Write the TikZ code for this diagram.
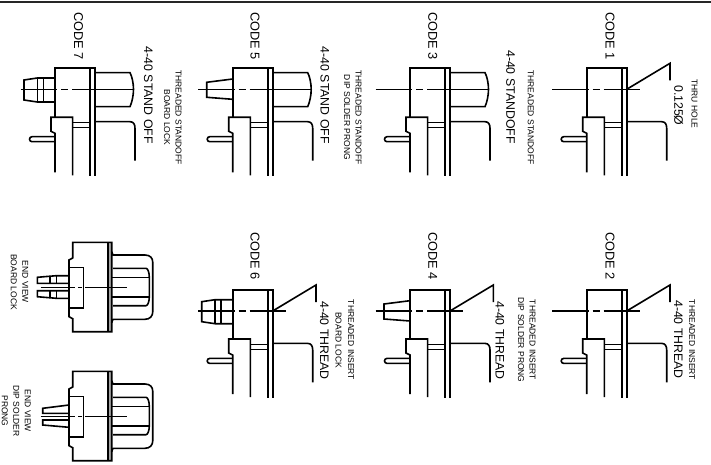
\documentclass[tikz,border=0pt]{standalone}
\usepackage{fontspec}
\setmainfont{Liberation Sans}
\tikzset{
  ln/.style={line width=1.6pt,line join=miter,line cap=butt},
  cl/.style={line width=1.4pt},
  big/.style={rotate=-90,anchor=mid west,inner sep=0pt,font=\fontsize{12.3}{14}\selectfont},
  codelab/.style={big,font=\fontsize{12.8}{14}\selectfont},
  small/.style={rotate=-90,anchor=mid,inner sep=0pt,font=\fontsize{8.5}{10}\selectfont}
}
% common connector section, origin = top left corner of the body of CODE 1
\newcommand{\conbody}{%
  \draw[ln] (0,49) -- (0,0) -- (40,0) -- (40,107.5);
  \draw[ln] (35,0) -- (35,107.5);
  \draw[ln] (0,104) -- (0,65) -- (-4,63) -- (-4,49) -- (17.6,49) -- (17.6,107);
  \draw[ln] (17.6,54.4) -- (35,54.4) (17.6,59.4) -- (35,59.4);
  \draw[ln] (0,68.4) -- (-23,68.4) arc[start angle=270,end angle=90,radius=2.5] -- (0,73.4);
  \draw[ln] (40,53.4) -- (75,53.4) .. controls (78.5,53.4) and (80,56) .. (80,60) -- (80,92.4);
}
\newcommand{\centerl}[1]{% right end
  \draw[cl] (-34.4,21) -- (2,21) (6,21) -- (13,21) (17,21) -- (#1,21);
}
\newcommand{\leaderln}{%
  \draw[ln] (40,21) -- (83.3,-5) -- (83.3,12);
}
\newcommand{\standoff}{%
  \draw[ln] (40,4.4) -- (75,4.4) .. controls (77,8) and (78.5,15) .. (78.5,21) .. controls (78.5,27) and (77,34) .. (75,38.4) -- (40,38.4);
}
\newcommand{\solderp}{%
  \draw[ln] (0,10.7) -- (-26,14) -- (-26,29) -- (0,31);
}
\newcommand{\boardl}{%
  \draw[ln] (0,9.7) -- (-17.7,9.7) -- (-31,11.7) -- (-31,31.7) -- (-17.7,33.7) -- (0,33.7);
  \draw[ln] (-17.7,9) -- (-17.7,34.4) (-11.7,9) -- (-11.7,34.4);
}
% rear view, origin = left end of the body on the centre line
\newcommand{\rearvw}{%
  \fill[black!35] (39,-44.7) rectangle (42.7,44.7);
  \draw[ln] (42.7,-44.7) -- (3.7,-44.7) -- (3.7,-29) -- (0,-27) -- (0,29.7) -- (3.7,31.7) -- (3.7,44.7) -- (42.7,44.7) -- cycle;
  \draw[ln] (39,-44.7) -- (39,44.7);
  \draw[ln] (0,-19.7) -- (14.3,-19.7) -- (14.3,20.7) -- (0,20.7);
  \draw[ln] (42.7,-35.3) -- (44,-32) -- (76,-32) .. controls (81,-32) and (83.7,-29) .. (83.7,-25) -- (83.7,25) .. controls (83.7,29) and (81,32.3) .. (76,32.3) -- (44,32.3) -- (42.7,35.6);
  \draw[ln] (44,-18.7) -- (77,-18.7) .. controls (79,-18.7) and (80.3,-14) .. (80.3,-9.7) -- (80.3,9.7) .. controls (80.3,14) and (79,18.7) .. (77,18.7) -- (44,18.7);
  \draw[ln] (43,-9.7) -- (80.3,-9.7) (43,9.7) -- (80.3,9.7);
  \draw[line width=1pt] (-28.3,0) -- (6,0) (9,0) -- (13,0) (16,0) -- (57.7,0);
}
\begin{document}
\begin{tikzpicture}[x=1pt,y=-1pt]
\useasboundingbox (0,0) rectangle (711,465);
\fill[white] (0,0) rectangle (711,465);
\draw[line width=1.8pt,black!85] (0,2) -- (711,2);

% CODE 1
\begin{scope}[shift={(586.7,68.3)}]
  \conbody \centerl{53.3} \leaderln
\end{scope}
% CODE 2
\begin{scope}[shift={(586.7,290)}]
  \conbody \centerl{53.3} \leaderln
\end{scope}
% CODE 3
\begin{scope}[shift={(410,68.3)}]
  \conbody \centerl{78.5} \standoff
\end{scope}
% CODE 4
\begin{scope}[shift={(410,290)}]
  \conbody \centerl{53.3} \leaderln \solderp
\end{scope}
% CODE 5
\begin{scope}[shift={(232.7,68.3)}]
  \conbody \centerl{78.5} \standoff \solderp
\end{scope}
% CODE 6
\begin{scope}[shift={(232.7,290)}]
  \conbody \centerl{53.3} \leaderln \boardl
\end{scope}
% CODE 7
\begin{scope}[shift={(55,68.3)}]
  \conbody \centerl{78.5} \standoff \boardl
\end{scope}

% Rear view, board lock
\begin{scope}[shift={(69,287)}]
  \rearvw
  \draw[ln] (0,-11.3) -- (-12.7,-11.3) -- (-31.7,-9.7) -- (-31.7,-3.7) -- (0,-3.7);
  \draw[ln] (-12.7,-11.3) -- (-12.7,-3.7) (-19,-11.3) -- (-19,-3.7);
  \draw[ln] (0,11.3) -- (-12.7,11.3) -- (-31.7,9.7) -- (-31.7,3.7) -- (0,3.7);
  \draw[ln] (-12.7,11.3) -- (-12.7,3.7) (-19,11.3) -- (-19,3.7);
\end{scope}
% Rear view, DIP solder prong
\begin{scope}[shift={(69,416)}]
  \rearvw
  \draw[ln] (0,-11) -- (-26.3,-7.7) -- (-26.3,-2.7) -- (0,-2.7);
  \draw[ln] (0,11.3) -- (-26.3,9) -- (-26.3,4) -- (0,4);
\end{scope}

% Labels
\node[codelab] (c1) at (608.3,12) {CODE 1};
\node[codelab] (c3) at (431,12) {CODE 3};
\node[codelab] (c5) at (253.3,12) {CODE 5};
\node[codelab] (c7) at (76.7,12) {CODE 7};
\node[codelab] (c2) at (608.3,232) {CODE 2};
\node[codelab] (c4) at (431,232) {CODE 4};
\node[codelab] (c6) at (253.3,232) {CODE 6};

\node[big] (d1) at (677,85) {0.125Ø};
\node[big] (d3) at (509,50) {4-40 STANDOFF};
\node[big] (d5) at (323.3,46.7) {4-40 STAND OFF};
\node[big] (d7) at (146.7,46.7) {4-40 STAND OFF};
\node[big] (d2) at (676.7,300) {4-40 THREAD};
\node[big] (d4) at (498.3,301) {4-40 THREAD};
\node[big] (d6) at (322.7,301) {4-40 THREAD};

\node[small] (t0) at (694.3,104) {THRU HOLE};
\node[small] (t1) at (530.5,117.5) {THREADED STANDOFF};
\node[small] (t3a) at (358.3,117.5) {THREADED STANDOFF};
\node[small] (t3b) at (346.7,117.5) {DIP SOLDER PRONG};
\node[small] (t7a) at (178.3,117.5) {THREADED STANDOFF};
\node[small] (t7b) at (166.7,117.5) {BOARD LOCK};
\node[small] (t2) at (691.7,340) {THREADED INSERT};
\node[small] (t4a) at (532.3,340) {THREADED INSERT};
\node[small] (t4b) at (520.7,340) {DIP SOLDER PRONG};
\node[small] (t6a) at (350.7,340) {THREADED INSERT};
\node[small] (t6b) at (338.3,340) {BOARD LOCK};
\node[small] (e1a) at (25,282) {END VIEW};
\node[small] (e1b) at (13.5,282) {BOARD LOCK};
\node[small] (e2a) at (27.5,411) {END VIEW};
\node[small] (e2b) at (16,411) {DIP SOLDER};
\node[small] (e2c) at (4.5,411) {PRONG};
\end{tikzpicture}
\end{document}
